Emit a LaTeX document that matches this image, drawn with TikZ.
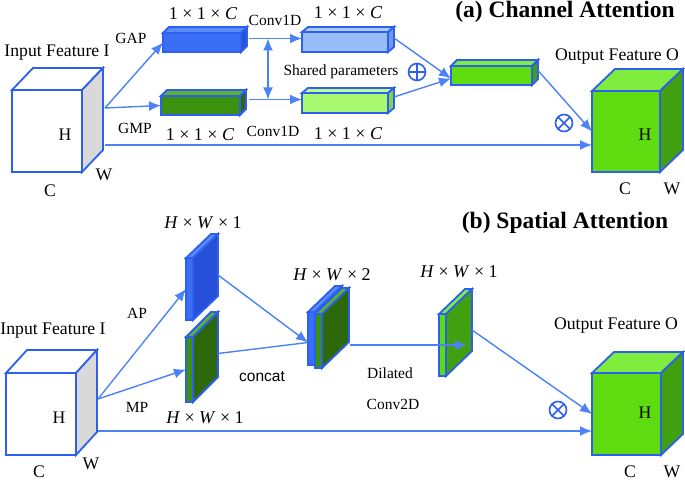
\documentclass[tikz,border=0pt]{standalone}
\usepackage{fontspec}
\setmainfont{Liberation Serif}
\setsansfont{Liberation Sans}
\usetikzlibrary{arrows.meta}

\definecolor{edgeblue}{RGB}{45,95,240}
\definecolor{arrowblue}{RGB}{75,130,245}
\definecolor{sidegray}{RGB}{217,217,217}
\definecolor{bluefront}{RGB}{58,110,245}
\definecolor{bluetop}{RGB}{90,140,248}
\definecolor{blueside}{RGB}{38,80,215}
\definecolor{paleblue}{RGB}{152,190,250}
\definecolor{palebluetop}{RGB}{170,204,252}
\definecolor{palebluesd}{RGB}{112,152,236}
\definecolor{darkgreen}{RGB}{60,145,15}
\definecolor{darkgreentop}{RGB}{95,178,45}
\definecolor{darkgreensd}{RGB}{45,105,10}
\definecolor{palegreen}{RGB}{168,248,112}
\definecolor{palegreentop}{RGB}{190,252,145}
\definecolor{palegreensd}{RGB}{130,210,80}
\definecolor{brightgreen}{RGB}{95,220,15}
\definecolor{brightgreentop}{RGB}{128,236,62}
\definecolor{brightgreensd}{RGB}{65,160,15}

\begin{document}
\begin{tikzpicture}[x=1pt, y=-1pt, line join=miter,
    every node/.style={inner sep=0pt, outer sep=0pt},
    face/.style={draw=edgeblue, line width=1.8pt},
    lbl/.style={font=\fontsize{17.7}{20}\selectfont},
    sml/.style={font=\fontsize{15.5}{18}\selectfont},
    dimtxt/.style={font=\fontsize{18}{20}\selectfont},
    ttl/.style={font=\fontsize{23.5}{26}\selectfont\bfseries},
    arr/.style={draw=arrowblue, line width=1.4pt, -{Latex[length=12pt, width=10pt]}},
    link/.style={draw=arrowblue, line width=1.4pt},
    op/.style={circle, draw=edgeblue, line width=1.6pt, minimum size=17pt}]
    \fill[white] (0,0) rectangle (685,481);
    \useasboundingbox (0,0) rectangle (685,481);

    % (a) Channel attention
    \node[ttl] (ttla) at (565,12) {(a) Channel Attention};

    \node[face, fill=white, minimum width=70pt, minimum height=82pt] (ina) at (47,131) {};
    \filldraw[face, fill=white] (ina.north west) -- ++(21,-22) -- ++(70,0) -- (ina.north east) -- cycle;
    \filldraw[face, fill=sidegray] (ina.north east) -- ++(21,-22) -- ++(0,82) -- (ina.south east) -- cycle;
    \node[lbl] (ina-t) at (57,53) {Input Feature I};
    \node[lbl] (ina-h) at (65,135) {H};
    \node[lbl] (ina-c) at (50,191) {C};
    \node[lbl] (ina-w) at (104,175) {W};

    \node[face, fill=bluefront, minimum width=78pt, minimum height=19pt] (gap) at (202,42.5) {};
    \filldraw[face, fill=bluetop] (gap.north west) -- ++(6,-6) -- ++(78,0) -- (gap.north east) -- cycle;
    \filldraw[face, fill=blueside] (gap.north east) -- ++(6,-6) -- ++(0,19) -- (gap.south east) -- cycle;

    \node[face, fill=darkgreen, minimum width=79pt, minimum height=19pt] (gmp) at (200.5,105.5) {};
    \filldraw[face, fill=darkgreentop] (gmp.north west) -- ++(6,-6) -- ++(79,0) -- (gmp.north east) -- cycle;
    \filldraw[face, fill=darkgreensd] (gmp.north east) -- ++(6,-6) -- ++(0,19) -- (gmp.south east) -- cycle;

    \node[face, fill=paleblue, minimum width=86pt, minimum height=20pt] (cva) at (345,42) {};
    \filldraw[face, fill=palebluetop] (cva.north west) -- ++(6,-5) -- ++(86,0) -- (cva.north east) -- cycle;
    \filldraw[face, fill=palebluesd] (cva.north east) -- ++(6,-5) -- ++(0,20) -- (cva.south east) -- cycle;

    \node[face, fill=palegreen, minimum width=86pt, minimum height=20pt] (cvm) at (345,103) {};
    \filldraw[face, fill=palegreentop] (cvm.north west) -- ++(6,-5) -- ++(86,0) -- (cvm.north east) -- cycle;
    \filldraw[face, fill=palegreensd] (cvm.north east) -- ++(6,-5) -- ++(0,20) -- (cvm.south east) -- cycle;

    \node[face, fill=brightgreen, minimum width=81pt, minimum height=19pt] (mrg) at (491.5,75.5) {};
    \filldraw[face, fill=brightgreentop] (mrg.north west) -- ++(6,-6) -- ++(81,0) -- (mrg.north east) -- cycle;
    \filldraw[face, fill=brightgreensd] (mrg.north east) -- ++(6,-6) -- ++(0,19) -- (mrg.south east) -- cycle;

    \node[face, fill=brightgreen, minimum width=68pt, minimum height=81pt] (outa) at (626,131.5) {};
    \filldraw[face, fill=brightgreentop] (outa.north west) -- ++(23,-22) -- ++(68,0) -- (outa.north east) -- cycle;
    \filldraw[face, fill=brightgreensd] (outa.north east) -- ++(23,-22) -- ++(0,81) -- (outa.south east) -- cycle;
    \node[lbl] (outa-t) at (617,57) {Output Feature O};
    \node[lbl] (outa-h) at (645,135) {H};
    \node[lbl] (outa-c) at (625,189) {C};
    \node[lbl] (outa-w) at (672,189) {W};

    \node[sml] (gap-t) at (131,38) {GAP};
    \node[sml] (gmp-t) at (135,128) {GMP};
    \node[dimtxt] (gap-d) at (203,14) {1 × 1 × \textit{C}};
    \node[dimtxt] (gmp-d) at (200,135) {1 × 1 × \textit{C}};
    \node[sml] (cva-t) at (275,20) {Conv1D};
    \node[sml] (cvm-t) at (273,131) {Conv1D};
    \node[dimtxt] (cva-d) at (348,13) {1 × 1 × \textit{C}};
    \node[dimtxt] (cvm-d) at (348,134) {1 × 1 × \textit{C}};
    \node[sml] (shr) at (341,72) {Shared parameters};

    \node[op] (adda) at (417,72) {};
    \draw[edgeblue, line width=1.6pt] (adda.north) -- (adda.south) (adda.west) -- (adda.east);
    \node[op] (mula) at (564,123) {};
    \draw[edgeblue, line width=1.6pt] (mula.north east) -- (mula.south west) (mula.north west) -- (mula.south east);

    \coordinate (ina-r) at ([shift={(23,-23)}]ina.east);
    \coordinate (ina-l) at ([shift={(23,14)}]ina.east);
    \coordinate (gap-r) at ([shift={(8,-4)}]gap.east);
    \coordinate (gmp-r) at ([shift={(9,-6)}]gmp.east);
    \draw[arr] (ina-r) -- (gap.west);
    \draw[arr] (ina-r) -- (gmp.west);
    \draw[arr] (ina-l) -- (ina-l -| outa.west);
    \draw[arr] (gap-r) -- (gap-r -| cva.west);
    \draw[arr] (gmp-r) -- (gmp-r -| cvm.west);
    \draw[arr, {Latex[length=12pt, width=10pt]}-{Latex[length=12pt, width=10pt]}] ([xshift=19pt]gap-r) -- ([xshift=19pt]gmp-r);
    \draw[arr] ([shift={(6,-4)}]cva.east) -- ([yshift=-3pt]mrg.west);
    \draw[arr] ([shift={(6,-6)}]cvm.east) -- ([yshift=-3pt]mrg.west);
    \draw[arr] ([shift={(6,-5)}]mrg.east) -- (outa.west);

    % (b) Spatial attention
    \node[ttl] (ttlb) at (565,223) {(b) Spatial Attention};

    \node[face, fill=white, minimum width=70pt, minimum height=82pt] (inb) at (41,414) {};
    \filldraw[face, fill=white] (inb.north west) -- ++(21,-23) -- ++(70,0) -- (inb.north east) -- cycle;
    \filldraw[face, fill=sidegray] (inb.north east) -- ++(21,-23) -- ++(0,82) -- (inb.south east) -- cycle;
    \node[lbl] (inb-t) at (53,331) {Input Feature I};
    \node[lbl] (inb-h) at (59,418) {H};
    \node[lbl] (inb-c) at (39,472) {C};
    \node[lbl] (inb-w) at (91,464) {W};

    \node[face, fill=bluefront, minimum width=7pt, minimum height=62pt] (ap) at (189.5,289) {};
    \filldraw[face, fill=bluetop] (ap.north west) -- ++(25,-24) -- ++(7,0) -- (ap.north east) -- cycle;
    \filldraw[face, fill=blueside] (ap.north east) -- ++(25,-24) -- ++(0,62) -- (ap.south east) -- cycle;

    \node[face, fill=darkgreen, minimum width=7pt, minimum height=65pt] (mp) at (189.5,369.5) {};
    \filldraw[face, fill=darkgreentop] (mp.north west) -- ++(25,-25) -- ++(7,0) -- (mp.north east) -- cycle;
    \filldraw[face, fill=darkgreensd] (mp.north east) -- ++(25,-25) -- ++(0,65) -- (mp.south east) -- cycle;

    \node[face, fill=bluefront, minimum width=7pt, minimum height=53pt] (cca) at (311.5,338.5) {};
    \filldraw[face, fill=bluetop] (cca.north west) -- ++(27,-26) -- ++(7,0) -- (cca.north east) -- cycle;
    \filldraw[face, fill=blueside] (cca.north east) -- ++(27,-26) -- ++(0,53) -- (cca.south east) -- cycle;
    \node[face, fill=darkgreen, minimum width=7pt, minimum height=54pt] (ccm) at (318.5,341) {};
    \filldraw[face, fill=darkgreentop] (ccm.north west) -- ++(27,-26) -- ++(7,0) -- (ccm.north east) -- cycle;
    \filldraw[face, fill=darkgreensd] (ccm.north east) -- ++(27,-26) -- ++(0,54) -- (ccm.south east) -- cycle;

    \node[face, fill=brightgreen, minimum width=7pt, minimum height=62pt] (dil) at (442.5,345) {};
    \filldraw[face, fill=brightgreentop] (dil.north west) -- ++(26,-25) -- ++(7,0) -- (dil.north east) -- cycle;
    \filldraw[face, fill=brightgreensd] (dil.north east) -- ++(26,-25) -- ++(0,62) -- (dil.south east) -- cycle;

    \node[face, fill=brightgreen, minimum width=69pt, minimum height=82pt] (outb) at (626.5,414) {};
    \filldraw[face, fill=brightgreentop] (outb.north west) -- ++(22,-21) -- ++(69,0) -- (outb.north east) -- cycle;
    \filldraw[face, fill=brightgreensd] (outb.north east) -- ++(22,-21) -- ++(0,82) -- (outb.south east) -- cycle;
    \node[lbl] (outb-t) at (616,326) {Output Feature O};
    \node[lbl] (outb-h) at (645,413) {H};
    \node[lbl] (outb-c) at (630,472) {C};
    \node[lbl] (outb-w) at (672,472) {W};

    \node[sml] (ap-t) at (137,313) {AP};
    \node[sml] (mp-t) at (137,407) {MP};
    \node[dimtxt] (ap-d) at (203,223) {\textit{H} × \textit{W} × 1};
    \node[dimtxt] (mp-d) at (205,418) {\textit{H} × \textit{W} × 1};
    \node[sml, font=\sffamily\fontsize{15.5}{18}\selectfont] (cc-t) at (262,377) {concat};
    \node[dimtxt] (cc-d) at (332,275) {\textit{H} × \textit{W} × 2};
    \node[sml] (dil-t1) at (390,373) {Dilated};
    \node[sml] (dil-t2) at (393,404) {Conv2D};
    \node[dimtxt] (dil-d) at (459,272) {\textit{H} × \textit{W} × 1};

    \node[op] (mulb) at (558,410) {};
    \draw[edgeblue, line width=1.6pt] (mulb.north east) -- (mulb.south west) (mulb.north west) -- (mulb.south east);

    \coordinate (inb-r) at ([shift={(22,-15)}]inb.east);
    \coordinate (inb-l) at ([shift={(22,17)}]inb.east);
    \draw[arr] (inb-r) -- (ap.west);
    \draw[arr] (inb-r) -- (mp.west);
    \draw[arr] (inb-l) -- (inb-l -| outb.west);
    \draw[arr] ([shift={(25,-14)}]ap.east) -- ([yshift=-4pt]cca.west);
    \draw[link] ([shift={(25,-16)}]mp.east) -- ([yshift=-4pt]cca.west);
    \draw[arr] ([shift={(28,4)}]ccm.east) -- ([shift={(28,4)}]ccm.east -| dil.west);
    \draw[arr] ([shift={(26,-15)}]dil.east) -- (outb.west);
\end{tikzpicture}
\end{document}
